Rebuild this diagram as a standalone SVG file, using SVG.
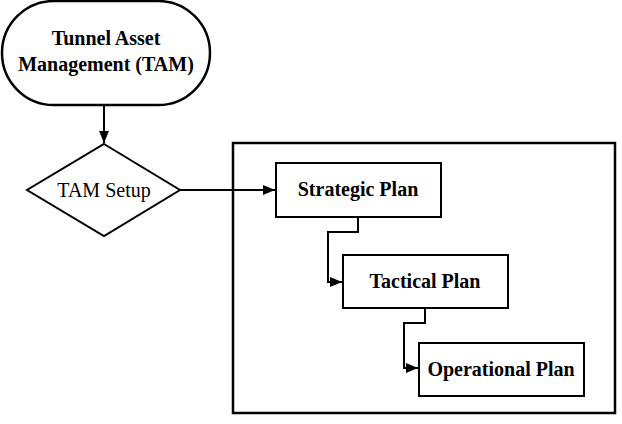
<svg xmlns="http://www.w3.org/2000/svg" width="622" height="424" viewBox="0 0 622 424">
<style>
.s{fill:#fff;stroke:#000;stroke-width:2}
.c{fill:none;stroke:#000;stroke-width:2}
.b{font-family:"Liberation Serif",serif;font-weight:bold;font-size:20px;text-anchor:middle;fill:#000}
.r{font-family:"Liberation Serif",serif;font-size:20px;text-anchor:middle;fill:#000}
</style>
<defs>
<marker id="a" viewBox="0 0 12 10" refX="12" refY="5" markerWidth="6" markerHeight="5" orient="auto" markerUnits="strokeWidth">
<path d="M0,0L12,5L0,10z" fill="#000"/>
</marker>
</defs>
<rect x="0" y="0" width="622" height="424" fill="#fff"/>
<g id="frame"><rect class="s" x="233" y="143" width="382" height="270" style="stroke-width:2.5"/></g>
<g id="tam"><rect class="s" x="2" y="1" width="208" height="104" rx="52" style="stroke-width:2.5"/>
<text class="b" x="106" y="45">Tunnel Asset</text>
<text class="b" x="106" y="71">Management (TAM)</text></g>
<g id="setup"><polygon class="s" points="104,144 180,190 104,236 27,190"/>
<text class="r" x="104" y="197">TAM Setup</text></g>
<g id="strategic"><rect class="s" x="276" y="163" width="165" height="54"/>
<text class="b" x="358" y="196">Strategic Plan</text></g>
<g id="tactical"><rect class="s" x="343" y="255" width="165" height="53"/>
<text class="b" x="425" y="288">Tactical Plan</text></g>
<g id="operational"><rect class="s" x="419" y="343" width="165" height="53"/>
<text class="b" x="501" y="376">Operational Plan</text></g>
<g id="connectors">
<path class="c" d="M104,105V143" marker-end="url(#a)"/>
<path class="c" d="M180,190H275" marker-end="url(#a)"/>
<path class="c" d="M358,217V232H328V282H342" marker-end="url(#a)"/>
<path class="c" d="M425,308V323H404V368H418" marker-end="url(#a)"/>
</g>
</svg>
